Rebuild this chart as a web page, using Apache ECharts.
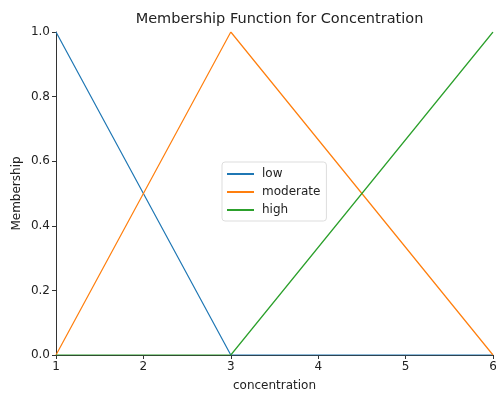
<!DOCTYPE html>
<html><head><meta charset="utf-8">
<script src="https://cdn.jsdelivr.net/npm/echarts@6/dist/echarts.min.js"></script>
<style>html,body{margin:0;padding:0;background:#fff}#c{width:496px;height:398px}</style>
</head><body><div id="c"></div>
<script>
const xPoints = [1, 3, 6];
const lowValues = [1, 0, 0];
const moderateValues = [0, 1, 0];
const highValues = [0, 0, 1];
const seriesNames = ['low', 'moderate', 'high'];
const xTicks = [1, 2, 3, 4, 5, 6];
const yTicks = [0, 0.2, 0.4, 0.6, 0.8, 1.0];
const colors = ['#1f77b4', '#ff7f0e', '#2ca02c'];

const font = 'DejaVu Sans';
const chart = echarts.init(document.getElementById('c'));
const vals = [lowValues, moderateValues, highValues];
chart.setOption({
  animation: false,
  textStyle: {fontFamily: font},
  title: {text: 'Membership Function for Concentration', left: 274.5, textAlign: 'center', top: 7,
    textStyle: {fontFamily: font, fontSize: 14.5, fontWeight: 'normal', color: '#222'}},
  grid: {left: 56, right: 3, top: 32, bottom: 43, containLabel: false, outerBoundsMode: 'none'},
  legend: {
    orient: 'vertical', left: 222, top: 162, data: seriesNames,
    backgroundColor: '#fff', borderColor: '#ddd', borderWidth: 1, borderRadius: 3,
    padding: [6, 6, 5, 5], itemGap: 6, itemWidth: 27, itemHeight: 2, icon: 'rect',
    textStyle: {fontFamily: font, fontSize: 12, color: '#222', padding: [0, 0, 0, 3]}
  },
  xAxis: {
    type: 'value', min: 1, max: 6, interval: 1,
    name: 'concentration', nameLocation: 'middle', nameGap: 25, nameMoveOverlap: false,
    nameTextStyle: {fontFamily: font, fontSize: 12, color: '#222'},
    axisLine: {show: true, lineStyle: {color: '#333', width: 1}},
    axisTick: {show: true, length: 4, lineStyle: {color: '#333'}},
    axisLabel: {fontFamily: font, fontSize: 12, color: '#222', margin: 6, showMaxLabel: true, showMinLabel: true},
    splitLine: {show: false}
  },
  yAxis: {
    type: 'value', min: 0, max: 1, interval: 0.2,
    name: 'Membership', nameLocation: 'middle', nameGap: 33, nameMoveOverlap: false,
    nameTextStyle: {fontFamily: font, fontSize: 12, color: '#222'},
    axisLine: {show: true, lineStyle: {color: '#333', width: 1}},
    axisTick: {show: true, length: 4, lineStyle: {color: '#333'}},
    axisLabel: {fontFamily: font, fontSize: 12, color: '#222', margin: 6, formatter: v => v.toFixed(1)},
    splitLine: {show: false}
  },
  series: seriesNames.map((n, i) => ({
    name: n, type: 'line', symbol: 'none', color: colors[i],
    lineStyle: {width: 1.2, color: colors[i]},
    data: xPoints.map((x, j) => [x, vals[i][j]])
  }))
});
</script></body></html>
